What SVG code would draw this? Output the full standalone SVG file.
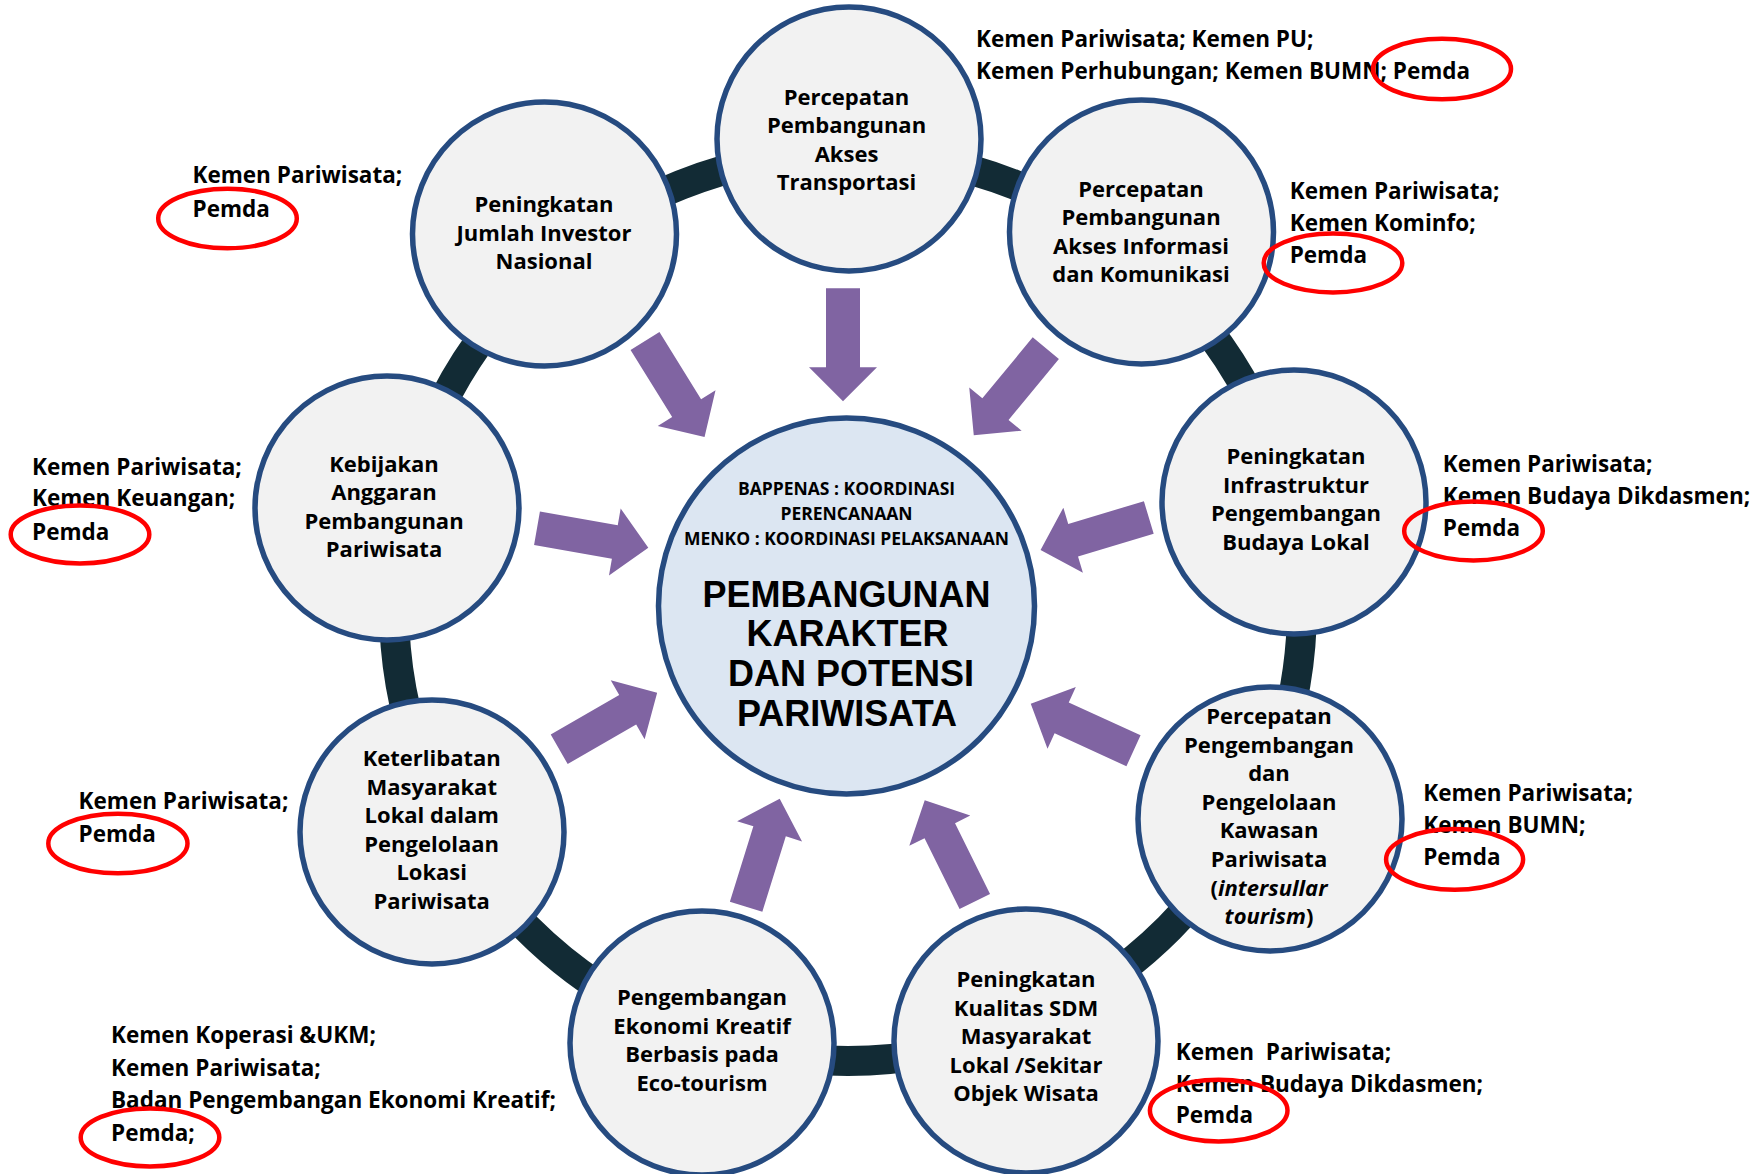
<svg xmlns="http://www.w3.org/2000/svg" xmlns:xlink="http://www.w3.org/1999/xlink" width="1758" height="1174" viewBox="0 0 1758 1174">
<style>
.node circle{fill:#f2f2f2;stroke:#264b80;stroke-width:5.5}
.hub circle{fill:#dce6f2;stroke:#264b80;stroke-width:5.5}
.t{font-family:"Open Sans","Noto Sans",sans-serif;font-weight:700;font-size:22px;fill:#000;text-anchor:middle}
.c1{font-family:"Open Sans","Noto Sans",sans-serif;font-weight:700;font-size:17.5px;fill:#000;text-anchor:middle}
.c2{font-family:"Liberation Sans",Arial,sans-serif;font-weight:700;font-size:36px;fill:#000;text-anchor:middle}
.a{font-family:"Open Sans","Noto Sans",sans-serif;font-weight:700;font-size:22.5px;fill:#000}
.hl{fill:none;stroke:#ff0000;stroke-width:4.5}
.arr{fill:#8064a2}
.ring{fill:none;stroke:#122b35;stroke-width:30}
</style>
<defs>
<polygon id="arrow" points="0,-17 79,-17 79,-34 113,0 79,34 79,17 0,17"/>
</defs>
<rect width="1758" height="1174" fill="#ffffff"/>
<g id="connectors">
<circle class="ring" cx="848" cy="607" r="454"/>
<g class="arr">
<use xlink:href="#arrow" transform="translate(843,288.3) rotate(90)"/>
<use xlink:href="#arrow" transform="translate(645,341) rotate(58.2)"/>
<use xlink:href="#arrow" transform="translate(1045.8,348.2) rotate(129.6)"/>
<use xlink:href="#arrow" transform="translate(537,528.3) rotate(9.9)"/>
<use xlink:href="#arrow" transform="translate(1148.8,517.5) rotate(163.3)"/>
<use xlink:href="#arrow" transform="translate(559.2,749.2) rotate(-29.9)"/>
<use xlink:href="#arrow" transform="translate(1133.5,750.8) rotate(-155.4)"/>
<use xlink:href="#arrow" transform="translate(746.1,906.7) rotate(-72.7)"/>
<use xlink:href="#arrow" transform="translate(974.8,901.5) rotate(-116.3)"/>
</g>
</g>
<g id="n1" class="node"><circle cx="849" cy="139" r="132"/>
<text class="t" x="846.5" y="104.5"><tspan x="846.5">Percepatan</tspan><tspan x="846.5" dy="28.6">Pembangunan</tspan><tspan x="846.5" dy="28.6">Akses</tspan><tspan x="846.5" dy="28.6">Transportasi</tspan></text></g>
<g id="n2" class="node"><circle cx="1141.5" cy="232" r="132"/>
<text class="t" x="1141" y="196.5"><tspan x="1141">Percepatan</tspan><tspan x="1141" dy="28.6">Pembangunan</tspan><tspan x="1141" dy="28.6">Akses Informasi</tspan><tspan x="1141" dy="28.6">dan Komunikasi</tspan></text></g>
<g id="n3" class="node"><circle cx="1294" cy="502" r="132"/>
<text class="t" x="1296" y="464"><tspan x="1296">Peningkatan</tspan><tspan x="1296" dy="28.6">Infrastruktur</tspan><tspan x="1296" dy="28.6">Pengembangan</tspan><tspan x="1296" dy="28.6">Budaya Lokal</tspan></text></g>
<g id="n4" class="node"><circle cx="1270" cy="819" r="132"/>
<text class="t" x="1269" y="724"><tspan x="1269">Percepatan</tspan><tspan x="1269" dy="28.6">Pengembangan</tspan><tspan x="1269" dy="28.6">dan</tspan><tspan x="1269" dy="28.6">Pengelolaan</tspan><tspan x="1269" dy="28.6">Kawasan</tspan><tspan x="1269" dy="28.6">Pariwisata</tspan><tspan x="1269" dy="28.6">(<tspan font-style="italic">intersullar</tspan></tspan><tspan x="1269" dy="28.6"><tspan font-style="italic">tourism</tspan>)</tspan></text></g>
<g id="n5" class="node"><circle cx="1026" cy="1041" r="132"/>
<text class="t" x="1026" y="987"><tspan x="1026">Peningkatan</tspan><tspan x="1026" dy="28.6">Kualitas SDM</tspan><tspan x="1026" dy="28.6">Masyarakat</tspan><tspan x="1026" dy="28.6">Lokal /Sekitar</tspan><tspan x="1026" dy="28.6">Objek Wisata</tspan></text></g>
<g id="n6" class="node"><circle cx="702" cy="1043" r="132"/>
<text class="t" x="702" y="1005"><tspan x="702">Pengembangan</tspan><tspan x="702" dy="28.6">Ekonomi Kreatif</tspan><tspan x="702" dy="28.6">Berbasis pada</tspan><tspan x="702" dy="28.6">Eco-tourism</tspan></text></g>
<g id="n7" class="node"><circle cx="432" cy="832" r="132"/>
<text class="t" x="431.7" y="766"><tspan x="431.7">Keterlibatan</tspan><tspan x="431.7" dy="28.6">Masyarakat</tspan><tspan x="431.7" dy="28.6">Lokal dalam</tspan><tspan x="431.7" dy="28.6">Pengelolaan</tspan><tspan x="431.7" dy="28.6">Lokasi</tspan><tspan x="431.7" dy="28.6">Pariwisata</tspan></text></g>
<g id="n8" class="node"><circle cx="387" cy="508" r="132"/>
<text class="t" x="384" y="471.5"><tspan x="384">Kebijakan</tspan><tspan x="384" dy="28.6">Anggaran</tspan><tspan x="384" dy="28.6">Pembangunan</tspan><tspan x="384" dy="28.6">Pariwisata</tspan></text></g>
<g id="n9" class="node"><circle cx="544.5" cy="234" r="132"/>
<text class="t" x="544" y="212"><tspan x="544">Peningkatan</tspan><tspan x="544" dy="28.6">Jumlah Investor</tspan><tspan x="544" dy="28.6">Nasional</tspan></text></g>
<g id="center" class="hub"><circle cx="846.5" cy="606" r="188"/>
<text class="c1"><tspan x="846.5" y="495">BAPPENAS : KOORDINASI</tspan><tspan x="846.5" y="520">PERENCANAAN</tspan><tspan x="846.5" y="545">MENKO : KOORDINASI PELAKSANAAN</tspan></text>
<text class="c2"><tspan x="846.5" y="606.5">PEMBANGUNAN</tspan><tspan x="847.5" y="646.3">KARAKTER</tspan><tspan x="851" y="686.1">DAN POTENSI</tspan><tspan x="847" y="725.9">PARIWISATA</tspan></text></g>
<g id="annotations">
<text class="a"><tspan x="976" y="46.7">Kemen Pariwisata; Kemen PU;</tspan><tspan x="976" y="78.5">Kemen Perhubungan; Kemen BUMN; Pemda</tspan></text>
<text class="a"><tspan x="1289.7" y="199">Kemen Pariwisata;</tspan><tspan x="1289.7" y="230.8">Kemen Kominfo;</tspan><tspan x="1289.7" y="263.3">Pemda</tspan></text>
<text class="a"><tspan x="1442.8" y="471.9">Kemen Pariwisata;</tspan><tspan x="1442.8" y="504.4">Kemen Budaya Dikdasmen;</tspan><tspan x="1442.8" y="535.8">Pemda</tspan></text>
<text class="a"><tspan x="1423.2" y="801.2">Kemen Pariwisata;</tspan><tspan x="1423.2" y="833.3">Kemen BUMN;</tspan><tspan x="1423.2" y="865.1">Pemda</tspan></text>
<text class="a" xml:space="preserve"><tspan x="1175.7" y="1059.5">Kemen  Pariwisata;</tspan><tspan x="1175.7" y="1091.7">Kemen Budaya Dikdasmen;</tspan><tspan x="1175.7" y="1123.4">Pemda</tspan></text>
<text class="a"><tspan x="111" y="1043">Kemen Koperasi &amp;UKM;</tspan><tspan x="111" y="1075.6">Kemen Pariwisata;</tspan><tspan x="111" y="1108.1">Badan Pengembangan Ekonomi Kreatif;</tspan><tspan x="111" y="1140.7">Pemda;</tspan></text>
<text class="a"><tspan x="78.6" y="808.9">Kemen Pariwisata;</tspan><tspan x="78.6" y="842.2">Pemda</tspan></text>
<text class="a"><tspan x="32" y="474.5">Kemen Pariwisata;</tspan><tspan x="32" y="506">Kemen Keuangan;</tspan><tspan x="32" y="539.6">Pemda</tspan></text>
<text class="a"><tspan x="192.5" y="183">Kemen Pariwisata;</tspan><tspan x="192.5" y="217">Pemda</tspan></text>
</g>
<g id="highlights">
<ellipse class="hl" cx="1442" cy="69" rx="69" ry="30.3"/>
<ellipse class="hl" cx="1333" cy="263" rx="69.3" ry="29.4"/>
<ellipse class="hl" cx="1473.5" cy="531" rx="69.3" ry="29.4"/>
<ellipse class="hl" cx="1454.6" cy="859.4" rx="68.5" ry="30.3"/>
<ellipse class="hl" cx="1218.7" cy="1110.6" rx="68.8" ry="30.8"/>
<ellipse class="hl" cx="150" cy="1137.4" rx="69.3" ry="29"/>
<ellipse class="hl" cx="117.9" cy="843.5" rx="69.6" ry="29.8"/>
<ellipse class="hl" cx="80" cy="534.4" rx="69.3" ry="29"/>
<ellipse class="hl" cx="227.5" cy="218.5" rx="69.3" ry="29.8"/>
</g>
</svg>
